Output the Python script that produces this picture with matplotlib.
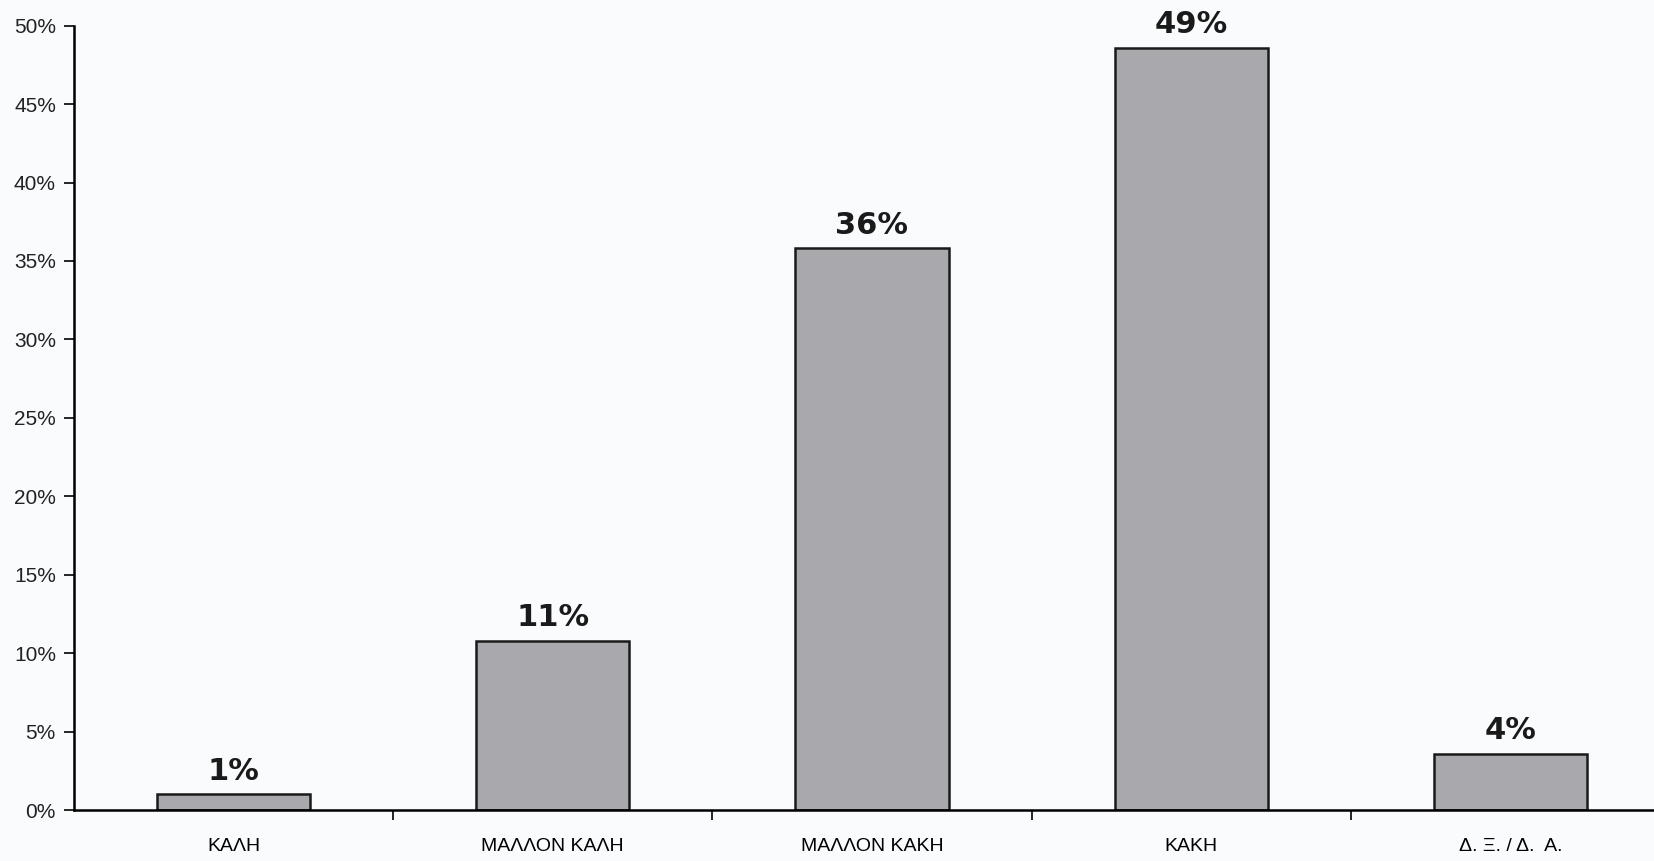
import numpy as np
import matplotlib.pyplot as plt
from matplotlib.ticker import FixedLocator, PercentFormatter

categories = ['ΚΑΛΗ', 'ΜΑΛΛΟΝ ΚΑΛΗ', 'ΜΑΛΛΟΝ ΚΑΚΗ', 'ΚΑΚΗ', 'Δ. Ξ. / Δ.  Α.']
values = [1.0, 10.8, 35.8, 48.6, 3.6]
labels = ['1%', '11%', '36%', '49%', '4%']
yticks = [0, 5, 10, 15, 20, 25, 30, 35, 40, 45, 50]

fig = plt.figure(figsize=(16.54, 8.61), dpi=100)
fig.patch.set_facecolor('#f9fbfd')
ax = fig.add_axes([0.0447, 0.0592, 0.965, 0.911])
ax.set_facecolor('#f9fbfd')

x = np.arange(len(categories))
bars = ax.bar(x, values, width=0.48, color='#a9a9ad', edgecolor='#1a1a1a', linewidth=1.8)

# etiketes pososton pano apo tis bares
for b, lab in zip(bars, labels):
    ax.annotate(lab, (b.get_x() + b.get_width() / 2, b.get_height()),
                xytext=(0, 6), textcoords='offset points', ha='center', va='bottom',
                fontsize=22, fontweight='bold', family='DejaVu Sans', color='#1a1a1a')

ax.set_xlim(-0.5, 4.5)
ax.set_ylim(0, 50)
ax.set_yticks(yticks)
ax.yaxis.set_major_formatter(PercentFormatter(decimals=0))
ax.set_xticks(x)
ax.set_xticklabels(categories, family='Liberation Sans', fontsize=14)
ax.xaxis.set_minor_locator(FixedLocator([0.5, 1.5, 2.5, 3.5]))
ax.tick_params(axis='x', which='major', length=0, pad=20)
ax.tick_params(axis='x', which='minor', length=7, width=1.2, direction='out')
ax.tick_params(axis='y', length=7, width=1.2, labelsize=15, pad=6)
for t in ax.get_yticklabels():
    t.set_family('Liberation Sans')
    t.set_color('#222222')

for s in ['top', 'right']:
    ax.spines[s].set_visible(False)
ax.spines['left'].set_linewidth(1.8)
ax.spines['bottom'].set_linewidth(1.8)

fig.savefig('out.png', dpi=100, facecolor=fig.get_facecolor())
